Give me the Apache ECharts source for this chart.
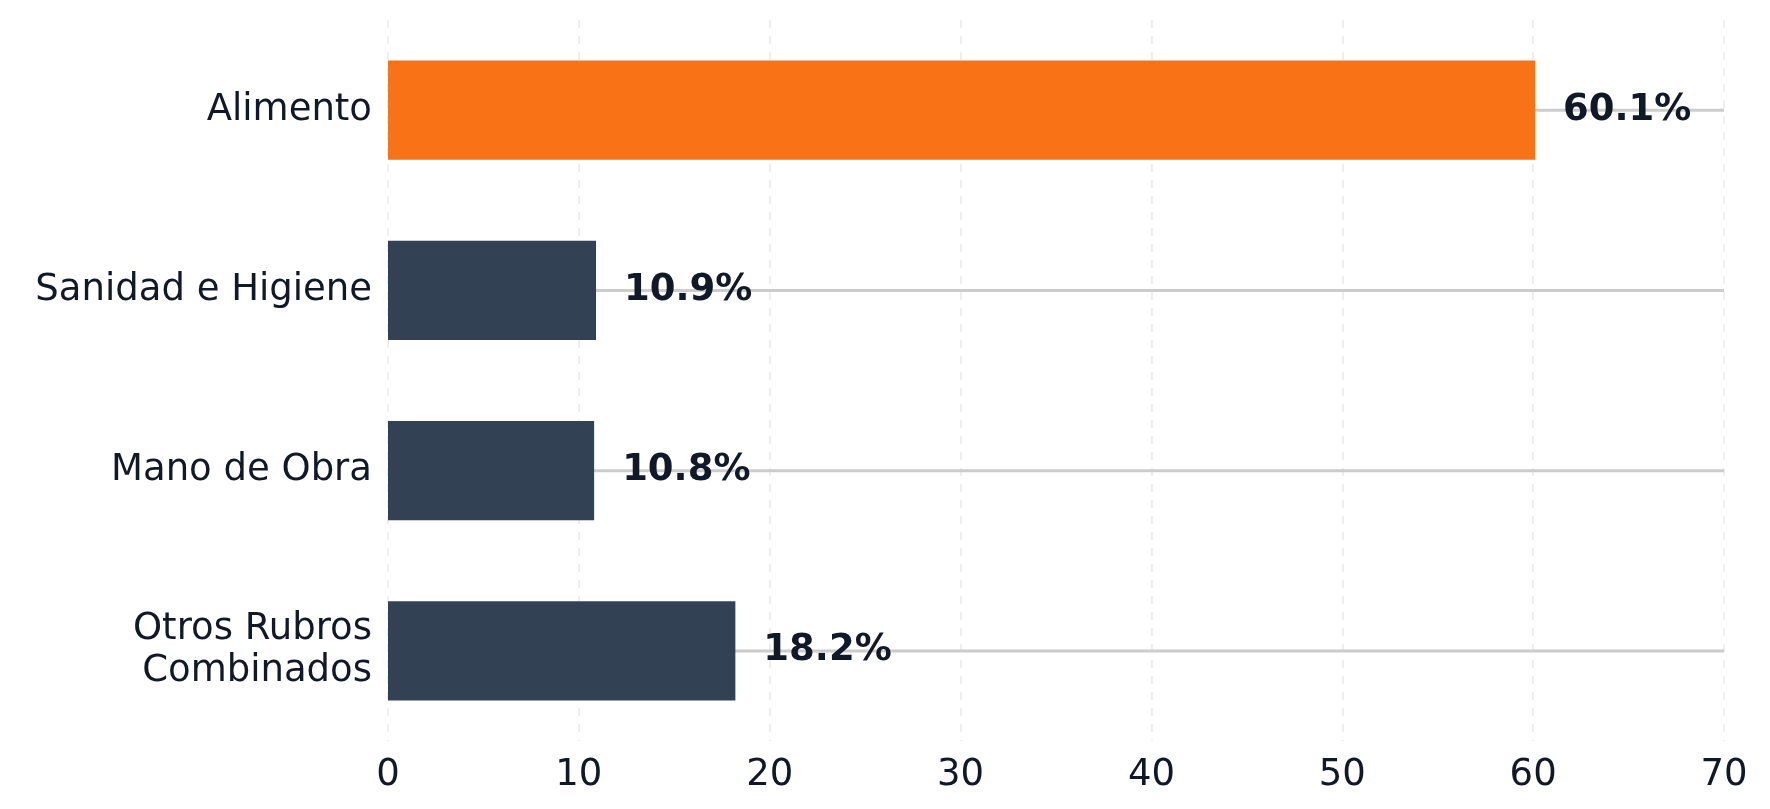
<!DOCTYPE html>
<html><head><meta charset="utf-8">
<script src="https://cdn.jsdelivr.net/npm/echarts@6/dist/echarts.min.js"></script>
<style>html,body{margin:0;background:#fff}#c{width:1770px;height:809px}</style>
</head><body><div id="c"></div>
<script>
const categories = ["Alimento", "Sanidad e Higiene", "Mano de Obra", "Otros Rubros\nCombinados"];
const values = [60.1, 10.9, 10.8, 18.2];
const xTicks = [0, 10, 20, 30, 40, 50, 60, 70];
const axisMax = 70;
const chart = echarts.init(document.getElementById('c'));
chart.setOption({
  animation: false,
  grid: {left: 388, right: 46, top: 20, bottom: 68},
  xAxis: {type: 'value', min: 0, max: axisMax, interval: 10,
    axisLine: {show: false}, axisTick: {show: false},
    axisLabel: {fontSize: 37, color: '#111827', fontFamily: 'DejaVu Sans', margin: 16},
    splitLine: {show: true, lineStyle: {color: '#eeeeee', type: [8, 8], width: 2}}},
  yAxis: [
    {type: 'category', data: categories, inverse: true,
    axisLine: {show: false}, axisTick: {show: false},
    axisLabel: {fontSize: 37, color: '#111827', fontFamily: 'DejaVu Sans', margin: 16, lineHeight: 42, align: 'right'}},
    {type: 'category', data: categories, inverse: true, show: false}
  ],
  series: [
    {type: 'bar', yAxisIndex: 1, data: categories.map(() => axisMax), barWidth: 3, silent: true,
     itemStyle: {color: '#cccccc'}, z: 1},
    {type: 'bar', yAxisIndex: 0, data: values.map((v, i) => ({value: v, itemStyle: {color: i === 0 ? '#f97316' : '#334155'}})),
     barWidth: '55%', z: 2,
     label: {show: true, position: 'right', distance: 28, formatter: p => p.value.toFixed(1) + '%',
       fontSize: 37, fontWeight: 'bold', color: '#111827', fontFamily: 'DejaVu Sans'}}
  ]
});
</script></body></html>
